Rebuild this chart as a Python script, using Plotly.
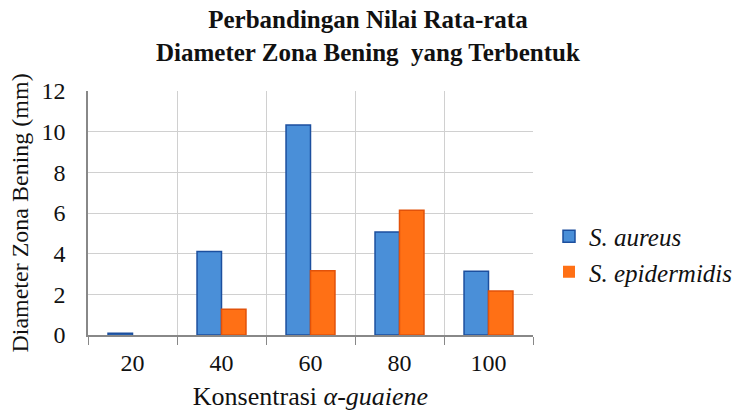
import plotly.graph_objects as go

categories = ["20", "40", "60", "80", "100"]
s_aureus = [0.08, 4.11, 10.33, 5.07, 3.13]
s_epidermidis = [0.0, 1.27, 3.16, 6.14, 2.17]
series_names = ["<i>S. aureus</i>", "<i>S. epidermidis</i>"]
title_lines = ["Perbandingan Nilai Rata-rata", "Diameter Zona Bening  yang Terbentuk"]

FF = "Liberation Serif"
TXT = "#111111"


def outline_widths(values, w=1.5):
    return [w if v > 0 else 0 for v in values]


fig = go.Figure()
fig.add_trace(go.Bar(
    x=categories, y=s_aureus, name=series_names[0],
    marker=dict(color="#4a8fd8",
                line=dict(color="#1c4f9e", width=outline_widths(s_aureus))),
))
fig.add_trace(go.Bar(
    x=categories, y=s_epidermidis, name=series_names[1],
    marker=dict(color="#ff7015",
                line=dict(color="#e2520a", width=outline_widths(s_epidermidis))),
))

L, R, T, B = 88, 205, 91, 76
W, H = 738, 411
pw = W - L - R
ph = H - T - B

def px_to_paper_x(px):
    return (px - L) / pw

def px_to_paper_y(py):
    return (H - B - py) / ph

annotations = [dict(
    text="<b>" + "<br>".join(title_lines) + "</b>",
    xref="paper", yref="paper",
    x=px_to_paper_x(367.5), y=px_to_paper_y(36),
    xanchor="center", yanchor="middle", showarrow=False, align="center",
    font=dict(family=FF, size=25, color=TXT),
)]

fig.update_layout(
    width=W, height=H,
    margin=dict(l=L, r=R, t=T, b=B, autoexpand=False),
    paper_bgcolor="white", plot_bgcolor="white",
    font=dict(family=FF, size=24, color=TXT),
    barmode="group", bargap=0.45, bargroupgap=0,
    showlegend=True,
    annotations=annotations,
    legend=dict(
        x=px_to_paper_x(549), xanchor="left",
        y=px_to_paper_y(254), yanchor="middle",
        font=dict(family=FF, size=25, color=TXT),
        bgcolor="rgba(0,0,0,0)",
    ),
)
fig.update_xaxes(
    type="category", tickson="boundaries",
    ticks="outside", ticklen=8, tickcolor="#888888", tickwidth=1.2,
    showgrid=True, gridcolor="#d0d0d0", gridwidth=1,
    showline=True, linecolor="#888888", linewidth=1.5,
    tickfont=dict(family=FF, size=24, color=TXT), ticklabelstandoff=5,
    title=dict(text="Konsentrasi <i>α-guaiene</i>",
               font=dict(family=FF, size=26, color=TXT), standoff=15),
    automargin=False,
)
fig.update_yaxes(
    range=[0, 12], dtick=2, tick0=0,
    showgrid=True, gridcolor="#d0d0d0", gridwidth=1,
    showline=True, linecolor="#888888", linewidth=1.5,
    ticks="", tickfont=dict(family=FF, size=24, color=TXT), ticklabelstandoff=16,
    title=dict(text="Diameter Zona Bening (mm)",
               font=dict(family=FF, size=24, color=TXT), standoff=6),
    zeroline=False, automargin=False,
)

fig.write_html(
    "out.html",
    config={"displayModeBar": False},
    post_script="document.body.style.margin='0';document.body.style.overflow='hidden';",
)
